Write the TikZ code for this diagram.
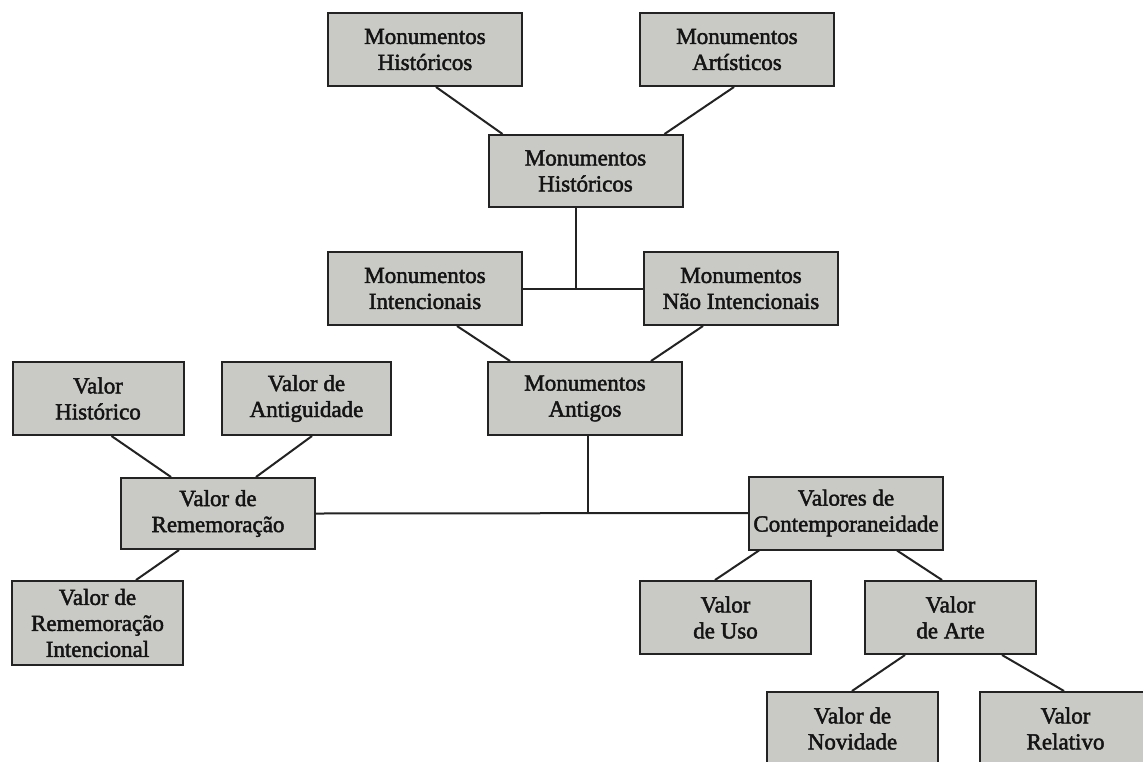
\documentclass[tikz,border=0pt]{standalone}
\usepackage{fontspec}
\setmainfont{Liberation Serif}
\newfontfamily\boxfont{Liberation Serif}[FakeBold=2]
\definecolor{boxgray}{RGB}{201,202,197}
\definecolor{edgegray}{RGB}{35,35,35}
\definecolor{txt}{RGB}{20,20,20}
\begin{document}
\begin{tikzpicture}[x=1pt,y=-1pt,
  box/.style={draw=edgegray, line width=2pt, fill=boxgray, align=center,
    inner sep=0pt, text=txt, font=\boxfont\fontsize{23}{26}\selectfont,
    minimum height=73pt},
  w194/.style={minimum width=194pt},
  w171/.style={minimum width=171pt},
  link/.style={draw=edgegray, line width=2pt}]
\useasboundingbox (0,0) rectangle (1143,761);
\fill[white] (0,0) rectangle (1143,761);
\clip (0,0) rectangle (1143,761);
% nodes
\node[box,w194] (mh1) at (425,49.5) {Monumentos\\Históricos};
\node[box,w194] (ma) at (737,49.5) {Monumentos\\Artísticos};
\node[box,w194,minimum height=72pt] (mh2) at (585.5,171) {Monumentos\\Históricos};
\node[box,w194] (mi) at (425,288.5) {Monumentos\\Intencionais};
\node[box,w194] (mni) at (741,288.5) {Monumentos\\Não Intencionais};
\node[box,w194] (mant) at (585,398.5) {Monumentos\\Antigos};
\node[box,w171] (vh) at (98,398.5) {Valor\\Histórico};
\node[box,minimum width=169pt] (va) at (306.5,398.5) {Valor de\\Antiguidade};
\node[box,w194,minimum height=71pt] (vr) at (218,513.5) {Valor de\\Rememoração};
\node[box,w171,minimum height=84pt] (vri) at (97.5,623) {Valor de\\Rememoração\\Intencional};
\node[box,w194] (vc) at (846,513) {Valores de\\Contemporaneidade};
\node[box,w171] (vu) at (725.5,617.5) {Valor\\de Uso};
\node[box,w171] (varte) at (950.5,617.5) {Valor\\de Arte};
\node[box,w171] (vn) at (852.5,728.5) {Valor de\\Novidade};
\node[box,w171] (vrel) at (1065.5,728.5) {Valor\\Relativo};
% junctions
\coordinate (j1) at ([xshift=88pt]mh2.south west |- mi.east);
\coordinate (j2) at ([xshift=101pt]mant.south west |- vr.east);
% connectors
\draw[link] ([xshift=15pt]mh2.north west) -- ([xshift=109pt]mh1.south west);
\draw[link] ([xshift=177pt]mh2.north west) -- ([xshift=95pt]ma.south west);
\draw[link] ([xshift=88pt]mh2.south west) -- (j1);
\draw[link] (mi.east) -- (mni.west);
\draw[link] ([xshift=130pt]mi.south west) -- ([xshift=23pt]mant.north west);
\draw[link] ([xshift=60pt]mni.south west) -- ([xshift=164pt]mant.north west);
\draw[link] ([xshift=101pt]mant.south west) -- (j2);
\draw[link] (vr.east) -- (vc.west);
\draw[link] ([xshift=100pt]vh.south west) -- ([xshift=51pt]vr.north west);
\draw[link] ([xshift=91pt]va.south west) -- ([xshift=136pt]vr.north west);
\draw[link] ([xshift=59pt]vr.south west) -- ([xshift=125pt]vri.north west);
\draw[link] ([xshift=11pt]vc.south west) -- ([xshift=76pt]vu.north west);
\draw[link] ([xshift=149pt]vc.south west) -- ([xshift=78pt]varte.north west);
\draw[link] ([xshift=41pt]varte.south west) -- ([xshift=86pt]vn.north west);
\draw[link] ([xshift=138pt]varte.south west) -- ([xshift=85pt]vrel.north west);
\end{tikzpicture}
\end{document}
